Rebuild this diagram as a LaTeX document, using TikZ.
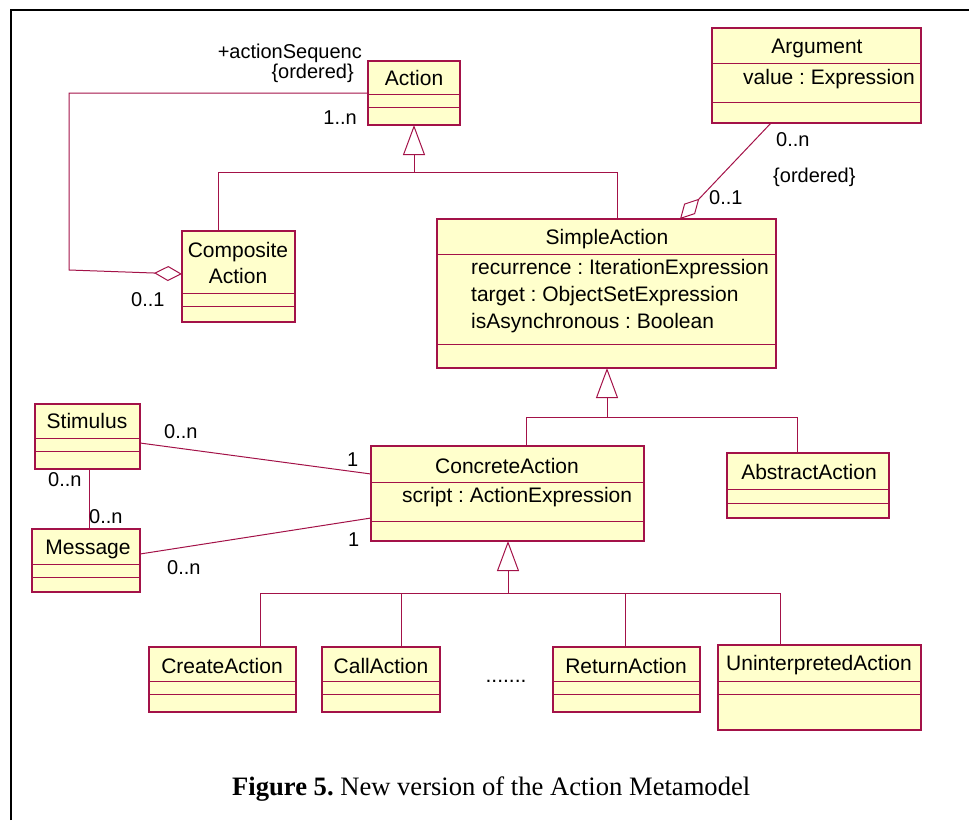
\documentclass[tikz,border=0pt]{standalone}
\usepackage{fontspec}
\setmainfont{Liberation Sans}
\newfontfamily\capfont{Liberation Serif}
\usetikzlibrary{arrows.meta}
\definecolor{umlred}{RGB}{163,18,72}
\definecolor{umlfill}{RGB}{255,255,204}
\frenchspacing

\tikzset{
  clsbox/.style={draw=umlred, fill=umlfill, line width=1.4pt, inner sep=0pt, outer sep=0pt},
  divider/.style={draw=umlred, line width=1pt},
  conn/.style={draw=umlred, line width=1pt},
  gen/.style={conn, -{Triangle[open, length=30pt, width=22pt, line width=1pt]}},
  agg/.style={conn, -{Diamond[open, length=28pt, width=15pt, line width=1pt]}},
  cname/.style={inner sep=0pt, anchor=base, font=\fontsize{21}{26}\selectfont},
  attr/.style={inner sep=0pt, anchor=base west, font=\fontsize{21}{27}\selectfont},
  mult/.style={inner sep=0pt, font=\fontsize{20}{24}\selectfont},
}

% class box: name, left, top, right, bottom, first divider, second divider
\newcommand\umlclass[7]{%
  \node[clsbox, anchor=north west, minimum width={(#4-#2)*1pt},
        minimum height={(#5-#3)*1pt}] (#1) at (#2,#3) {};
  \draw[divider] (#1.west |- 0,#6) -- (#1.east |- 0,#6);
  \draw[divider] (#1.west |- 0,#7) -- (#1.east |- 0,#7);
}

\begin{document}
\begin{tikzpicture}[x=1pt, y=-1pt]
\useasboundingbox (0,0) rectangle (969,820);

% page frame
\draw[black, line width=1.6pt] (11,820) -- (11,10) -- (969,10);

% classes
\umlclass{action}{368}{61}{460}{125}{94.5}{107}
\umlclass{composite}{182}{231}{295}{322}{293.5}{306}
\umlclass{simple}{437}{219}{776}{368}{254}{344}
\umlclass{argument}{712}{28}{921}{123}{63}{102}
\umlclass{stimulus}{35}{404}{140}{469}{438}{451}
\umlclass{message}{32}{529}{140}{592}{564}{577}
\umlclass{concrete}{371}{446}{644}{541}{482}{521}
\umlclass{abstract}{727}{453}{889}{518}{489}{503}
\umlclass{create}{149}{647}{296}{712}{681}{694}
\umlclass{call}{322}{647}{440}{712}{681}{694}
\umlclass{return}{553}{647}{700}{712}{681}{694}
\umlclass{uninterp}{718}{645}{921}{730}{681}{694}

% class names and attributes (multi-line texts sit on their last baseline)
\node[cname] (action-n) at (414,85) {Action};
\node[cname, align=center] (composite-n) at (238,283.5) {Composite\\Action};
\node[cname] (simple-n) at (607,244.5) {SimpleAction};
\node[attr, align=left] (simple-a) at (471,328)
  {recurrence : IterationExpression\\target : ObjectSetExpression\\isAsynchronous : Boolean};
\node[cname] (argument-n) at (817,53) {Argument};
\node[attr] (argument-a) at (743,84) {value : Expression};
\node[cname] (stimulus-n) at (87,428) {Stimulus};
\node[cname] (message-n) at (88,554) {Message};
\node[cname] (concrete-n) at (507,473) {ConcreteAction};
\node[attr] (concrete-a) at (402,502) {script : ActionExpression};
\node[cname] (abstract-n) at (809,479) {AbstractAction};
\node[cname] (create-n) at (222,673) {CreateAction};
\node[cname] (call-n) at (381,673) {CallAction};
\node[cname] (return-n) at (626,673) {ReturnAction};
\node[cname] (uninterp-n) at (819,670) {UninterpretedAction};
\node[cname] (dots) at (506,682) {.......};

% junction points of the generalisation trees
\coordinate (j1) at (414,172);
\coordinate (j1l) at (218,172);
\coordinate (j1r) at (617,172);
\coordinate (j2) at (607,417);
\coordinate (j2l) at (526,417);
\coordinate (j2r) at (797,417);
\coordinate (j3) at (508,593);
\coordinate (j3l) at (260,593);
\coordinate (j3r) at (780,593);
\coordinate (j3a) at (401,593);
\coordinate (j3b) at (625,593);

% generalisations
\draw[conn] (composite.north -| j1l) -- (j1l) -- (j1r) -- (simple.north -| j1r);
\draw[gen] (j1) -- (action.south -| j1);
\draw[conn] (concrete.north -| j2l) -- (j2l) -- (j2r) -- (abstract.north -| j2r);
\draw[gen] (j2) -- (simple.south -| j2);
\draw[conn] (create.north -| j3l) -- (j3l) -- (j3r) -- (uninterp.north -| j3r);
\draw[conn] (call.north -| j3a) -- (j3a);
\draw[conn] (return.north -| j3b) -- (j3b);
\draw[gen] (j3) -- (concrete.south -| j3);

% aggregations
\coordinate (b1) at (69,93);
\coordinate (b2) at (69,270);
\draw[agg] (action.west) -- (b1) -- (b2) -- ([yshift=2.5pt]composite.west);
\draw[agg] (argument.south -| 771,0) -- (simple.north -| 680,0);

% associations
\draw[conn] (stimulus.east |- 0,443) -- (concrete.west |- 0,474);
\draw[conn] (message.east |- 0,554) -- (concrete.west |- 0,518);
\draw[conn] (stimulus.south -| 89,0) -- (message.north -| 89,0);

% role names and multiplicities
\node[mult, anchor=base east] (l-seq) at (362,58) {+actionSequenc};
\node[mult, anchor=base east] (l-ord1) at (354,78.5) {\{ordered\}};
\node[mult, anchor=base east] (l-1n) at (357,124) {1..n};
\node[mult, anchor=base west] (l-01a) at (131,306) {0..1};
\node[mult, anchor=base west] (l-0na) at (776,146) {0..n};
\node[mult, anchor=base west] (l-ord2) at (773,182) {\{ordered\}};
\node[mult, anchor=base west] (l-01b) at (709,204) {0..1};
\node[mult, anchor=base west] (l-s0n) at (164,438) {0..n};
\node[mult, anchor=base west] (l-s1) at (347,466) {1};
\node[mult, anchor=base west] (l-sm0n) at (48,486) {0..n};
\node[mult, anchor=base west] (l-ms0n) at (89,523) {0..n};
\node[mult, anchor=base west] (l-m1) at (348,546) {1};
\node[mult, anchor=base west] (l-m0n) at (167,574) {0..n};

% caption
\node[inner sep=0pt, anchor=base west, font=\capfont\fontsize{26.6}{31}\selectfont]
  (caption) at (232,795) {\textbf{Figure 5.} New version of the Action Metamodel};
\end{tikzpicture}
\end{document}
